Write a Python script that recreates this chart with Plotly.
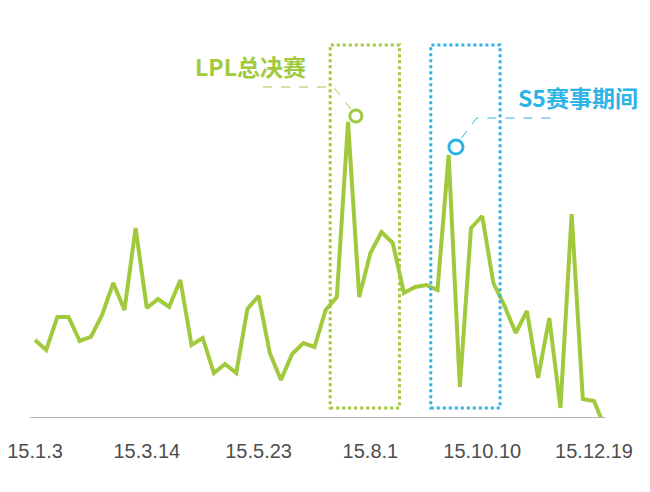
import plotly.graph_objects as go

# weekly index, 2015 (week 0 = 15.1.3)
values = [
    78, 68, 101, 101, 77, 81, 103, 135, 108, 190,
    110, 119, 111, 138, 73, 80, 45, 54, 45, 109,
    122, 65, 38, 64, 75, 71, 108, 121, 296, 121,
    165, 186, 175, 125, 131, 133, 128, 263, 31, 190,
    202, 135, 112, 85, 107, 40, 100, 10, 204, 19,
    17, -10,
]
weeks = list(range(len(values)))
tick_weeks = [0, 10, 20, 30, 40, 50]
tick_labels = ["15.1.3", "15.3.14", "15.5.23", "15.8.1", "15.10.10", "15.12.19"]

lpl_span = (27, 32)   # LPL finals weeks
s5_span = (36, 41)    # S5 weeks
lpl_label = "LPL总决赛"
s5_label = "S5赛事期间"

GREEN = "#a0ca3c"
BLUE = "#2cb4e6"
px = 11.18   # pixels per week
W, H = 642, 484   # page has an 8px body margin
x0_px = 27       # where week 0 sits inside the figure

fig = go.Figure()
fig.add_trace(go.Scatter(
    x=weeks, y=values, mode="lines",
    line=dict(color=GREEN, width=4),
    hoverinfo="skip",
))

shapes = []
# axis baseline
shapes.append(dict(type="line", xref="x", yref="y", x0=-0.45, x1=51, y0=0, y1=0,
                   line=dict(color="#b5b5b5", width=2)))
# dotted boxes
for (a, b), col in ((lpl_span, GREEN), (s5_span, BLUE)):
    shapes.append(dict(type="rect", xref="x", yref="y",
                       x0=a - 0.6, x1=b + 0.6, y0=10, y1=373,
                       line=dict(color=col, width=3, dash="dot")))

# peak markers and leader lines
peak_lpl = max(range(*lpl_span), key=lambda i: values[i])
peak_s5 = max(range(*s5_span), key=lambda i: values[i])
for pk, col, r, dx, dy, lead, side in (
    (peak_lpl, GREEN, 6, 0.7, 6, [(20.4, 331), (26.7, 331)], -1),
    (peak_s5, BLUE, 7, 0.65, 8, [(46.1, 300), (39.5, 300)], 1),
):
    cx, cy = pk + dx, values[pk] + dy
    shapes.append(dict(type="circle", xref="x", yref="y",
                       x0=cx - r / px, x1=cx + r / px, y0=cy - r, y1=cy + r,
                       line=dict(color=col, width=3)))
    pts = lead + [(cx + side * 0.45, cy + r + 1)]
    path = "M " + " L ".join(f"{x},{y}" for x, y in pts)
    shapes.append(dict(type="path", xref="x", yref="y", path=path,
                       line=dict(color=col, width=1, dash="dash")))

annotations = [
    dict(x=19.3, y=352, xref="x", yref="y", text=f"<b>{lpl_label}</b>", showarrow=False,
         font=dict(family="Noto Sans CJK SC", size=23, color=GREEN)),
    dict(x=48.6, y=321, xref="x", yref="y", text=f"<b>{s5_label}</b>", showarrow=False,
         font=dict(family="Noto Sans CJK SC", size=23, color=BLUE)),
]

fig.update_layout(
    width=W, height=H,
    margin=dict(l=0, r=0, t=0, b=74),
    paper_bgcolor="white", plot_bgcolor="white",
    showlegend=False,
    shapes=shapes,
    annotations=annotations,
    xaxis=dict(range=[-x0_px / px, (W - x0_px) / px], showgrid=False, zeroline=False,
               showline=False, tickvals=tick_weeks, ticktext=tick_labels,
               ticks="", ticklabelstandoff=19, ticklabeloverflow="allow",
               tickfont=dict(family="Liberation Sans Narrow, Liberation Sans", size=20,
                             color="#4d4d4d")),
    yaxis=dict(range=[0, 410], showgrid=False, zeroline=False, showline=False,
               showticklabels=False),
)

fig.write_html("out.html")
